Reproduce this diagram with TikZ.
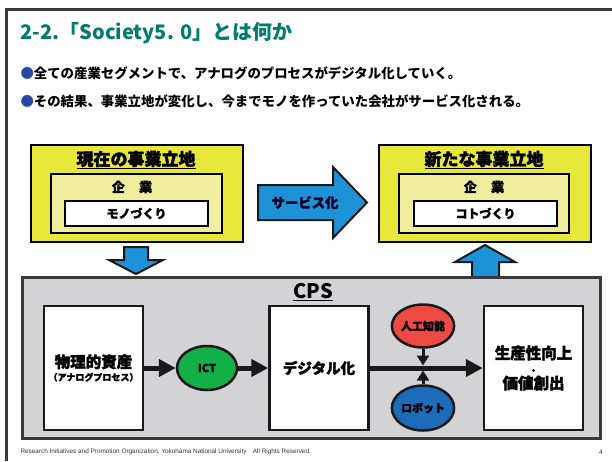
\documentclass[tikz,border=0pt]{standalone}
\usepackage{fontspec}
\setmainfont{Noto Sans CJK JP}
\newfontfamily\heavyfont{Noto Sans CJK JP}[BoldFeatures={FakeBold=2}]
\newfontfamily\footfont{Liberation Sans}
\usetikzlibrary{shapes.geometric, arrows.meta, positioning}

\definecolor{titleteal}{HTML}{007A72}
\definecolor{dotblue}{HTML}{2A48A0}
\definecolor{siteyellow}{HTML}{E8E83C}
\definecolor{corpyellow}{HTML}{F0EE9C}
\definecolor{flowblue}{HTML}{1E92D6}
\definecolor{cpsgrey}{HTML}{D3D3D5}
\definecolor{cpsline}{HTML}{3A3A3A}
\definecolor{ictgreen}{HTML}{12B046}
\definecolor{aired}{HTML}{EE4A44}
\definecolor{robotblue}{HTML}{1C6CBA}

\tikzset{
  sitebox/.style={draw=black, line width=2.5pt, fill=siteyellow, inner sep=0pt},
  corpbox/.style={draw=black, line width=2pt, fill=corpyellow, inner sep=0pt},
  workbox/.style={draw=black, line width=2pt, fill=white, inner sep=0pt,
    minimum width=143pt, minimum height=25pt, font=\heavyfont\bfseries\fontsize{12}{14}\selectfont},
  stagebox/.style={draw=black!90, line width=2.5pt, fill=white, inner sep=0pt,
    minimum width=99pt, minimum height=124pt, align=center},
  bubble/.style={ellipse, draw=black!90, line width=2.5pt, inner sep=0pt,
    minimum width=60pt, minimum height=44pt, font=\heavyfont\bfseries\fontsize{11}{13}\selectfont},
  flowarrow/.style={draw=black!90, line width=2pt, fill=flowblue, line join=miter},
  bigflow/.style={line width=5pt, draw=black!90,
    -{Triangle[length=17pt, width=17pt]}},
  smallflow/.style={line width=3pt, draw=black!90,
    -{Triangle[length=10pt, width=12pt]}}
}

\begin{document}
\begin{tikzpicture}[x=1pt, y=-1pt, font=\bfseries]
\useasboundingbox (0,0) rectangle (612,461);

% frame and title
\draw[line width=3pt, cpsline] (6,461) -- (6,9) -- (612,9);
\node[anchor=west, text=titleteal, font=\bfseries\fontsize{20}{22}\selectfont]
  (title) at (17,33) {2-2.「Society5. 0」とは何か};
\node[anchor=west, font=\bfseries\fontsize{13.4}{15}\selectfont]
  (point1) at (17,73) {\textcolor{dotblue}{●}全ての産業セグメントで、アナログのプロセスがデジタル化していく。};
\node[anchor=west, font=\bfseries\fontsize{13.4}{15}\selectfont]
  (point2) at (17,101) {\textcolor{dotblue}{●}その結果、事業立地が変化し、今までモノを作っていた会社がサービス化される。};

% current position
\node[sitebox, minimum width=212pt, minimum height=97pt] (nowsite) at (137,193.5) {};
\node[font=\heavyfont\bfseries\fontsize{17}{19}\selectfont] (nowhead) at (136,160) {\underline{現在の事業立地}};
\node[corpbox, minimum width=171pt, minimum height=59pt] (nowcorp) at (136.5,203.5) {};
\node[font=\heavyfont\bfseries\fontsize{13}{15}\selectfont] (nowcorplabel) at (132,187) {企\hspace{1.1em}業};
\node[workbox] (nowwork) at (136.5,213.5) {モノづくり};

% new position
\node[sitebox, minimum width=212pt, minimum height=97pt] (newsite) at (485,193.5) {};
\node[font=\heavyfont\bfseries\fontsize{17}{19}\selectfont] (newhead) at (484,160) {\underline{新たな事業立地}};
\node[corpbox, minimum width=170pt, minimum height=59pt] (newcorp) at (484,203.5) {};
\node[font=\heavyfont\bfseries\fontsize{13}{15}\selectfont] (newcorplabel) at (484,187) {企\hspace{1.1em}業};
\node[workbox] (newwork) at (485.5,213.5) {コトづくり};

% service arrow
\draw[flowarrow] (258,185) -- (333,185) -- (333,167) -- (367,202.5)
  -- (333,238) -- (333,220) -- (258,220) -- cycle;
\node[text=black!85!blue, font=\heavyfont\bfseries\fontsize{13.4}{15}\selectfont] (service) at (305,202.5) {サービス化};

% down and up arrows
\draw[flowarrow] (124,247) -- (148,247) -- (148,260) -- (163,260) -- (136,274)
  -- (109,260) -- (124,260) -- cycle;
\draw[flowarrow] (472,285) -- (472,262) -- (455,262) -- (485,245) -- (515,262)
  -- (499,262) -- (499,285) -- cycle;

% CPS
\node[draw=cpsline, line width=3pt, fill=cpsgrey, minimum width=578pt,
  minimum height=161pt, inner sep=0pt] (cps) at (311,357.5) {};
\node[font=\bfseries\fontsize{20}{22}\selectfont] (cpshead) at (313,292) {\underline{CPS}};

\node[stagebox, font=\heavyfont\bfseries] (asset) at (93.5,368)
  {{\fontsize{15.5}{17}\selectfont 物理的資産}\\[1pt]{\fontsize{9}{11}\selectfont （アナログプロセス）}};
\node[bubble, fill=ictgreen] (ict) at (207,368) {ICT};
\node[stagebox, font=\heavyfont\bfseries\fontsize{14.5}{16}\selectfont] (digital) at (319,368) {デジタル化};
\node[stagebox, font=\heavyfont\bfseries\fontsize{15.5}{18}\selectfont] (value) at (533.5,368)
  {生産性向上\\[-3pt]{\fontsize{9}{9}\selectfont ・}\\[-3pt]価値創出};
\node[bubble, fill=aired, minimum height=43pt] (ai) at (423,326) {人工知能};
\node[bubble, fill=robotblue, minimum height=45pt] (robot) at (423,408) {ロボット};
\coordinate (join) at (423,368);

\draw[bigflow] (asset) -- (ict);
\draw[bigflow] (ict) -- (digital);
\draw[bigflow] (digital) -- (value);
\draw[smallflow, shorten >=2.5pt] (ai) -- (join);
\draw[smallflow, shorten >=2.5pt] (robot) -- (join);

% footer
\node[anchor=west, font=\footfont\fontsize{6.4}{8}\selectfont, text=black!80] (foot) at (17,452)
  {Research Initiatives and Promotion Organization, Yokohama National University\quad All Rights Reserved.};
\node[font=\footfont\fontsize{6.5}{8}\selectfont, text=black!80] (page) at (601,452) {4};
\end{tikzpicture}
\end{document}
